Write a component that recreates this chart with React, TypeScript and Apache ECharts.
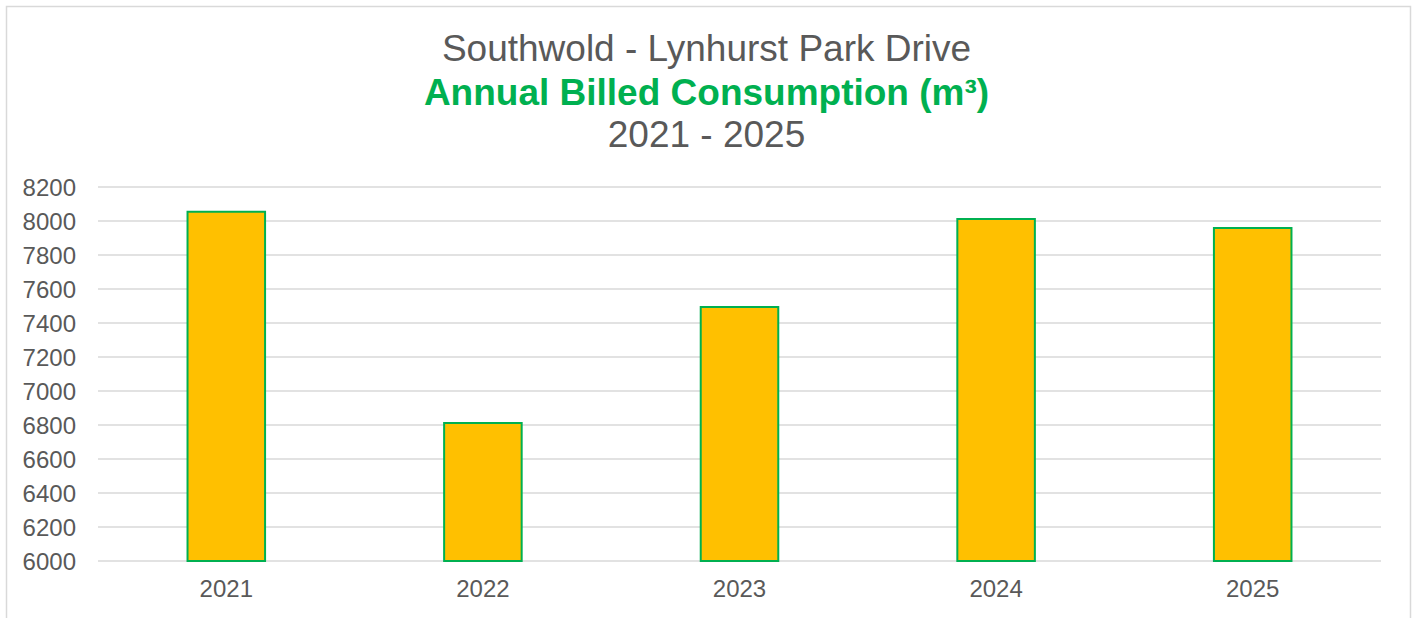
import React, { useEffect, useRef } from "react";
import * as echarts from "echarts";

const years = ["2021", "2022", "2023", "2024", "2025"];
const consumption = [8060, 6818, 7500, 8018, 7965];
const yTicks = { min: 6000, max: 8200, interval: 200 };
const titleLines = ["Southwold - Lynhurst Park Drive", "Annual Billed Consumption (m³)", "2021 - 2025"];

const FONT = "'Liberation Sans', Arial, sans-serif";

export default function App() {
  const ref = useRef<HTMLDivElement>(null);
  useEffect(() => {
    document.body.style.margin = "0";
    const chart = echarts.init(ref.current!, null, { renderer: "svg" });
    chart.setOption({
      animation: false,
      backgroundColor: "#ffffff",
      textStyle: { fontFamily: FONT },
      title: [
        { text: titleLines[0], left: "center", top: 25, textStyle: { fontFamily: FONT, fontSize: 37, fontWeight: "normal", color: "#595959" } },
        { text: titleLines[1], left: "center", top: 69, textStyle: { fontFamily: FONT, fontSize: 37, fontWeight: "bold", color: "#00B050" } },
        { text: titleLines[2], left: "center", top: 111, textStyle: { fontFamily: FONT, fontSize: 37, fontWeight: "normal", color: "#595959" } },
      ],
      graphic: [
        {
          type: "rect",
          shape: { x: 6.5, y: 6.5, width: 1404, height: 700 },
          style: { fill: "none", stroke: "#D9D9D9", lineWidth: 1.5 },
          silent: true,
        },
      ],
      grid: { left: 98, right: 32, top: 187, bottom: 57, containLabel: false },
      xAxis: {
        type: "category",
        data: years,
        axisLine: { show: false },
        axisTick: { show: false },
        axisLabel: { color: "#595959", fontSize: 24, fontFamily: FONT, margin: 15 },
      },
      yAxis: {
        type: "value",
        min: yTicks.min,
        max: yTicks.max,
        interval: yTicks.interval,
        axisLine: { show: false },
        axisTick: { show: false },
        axisLabel: {
          color: "#595959",
          fontSize: 24,
          fontFamily: FONT,
          margin: 22,
          formatter: (v: number) => String(v),
        },
        splitLine: { lineStyle: { color: "#D9D9D9", width: 1.5 } },
      },
      series: [
        {
          type: "bar",
          data: consumption,
          barWidth: "31%",
          itemStyle: { color: "#FFC000", borderColor: "#00B050", borderWidth: 2 },
        },
      ],
    });
    return () => chart.dispose();
  }, []);
  return <div ref={ref} style={{ width: 1413, height: 618 }} />;
}
